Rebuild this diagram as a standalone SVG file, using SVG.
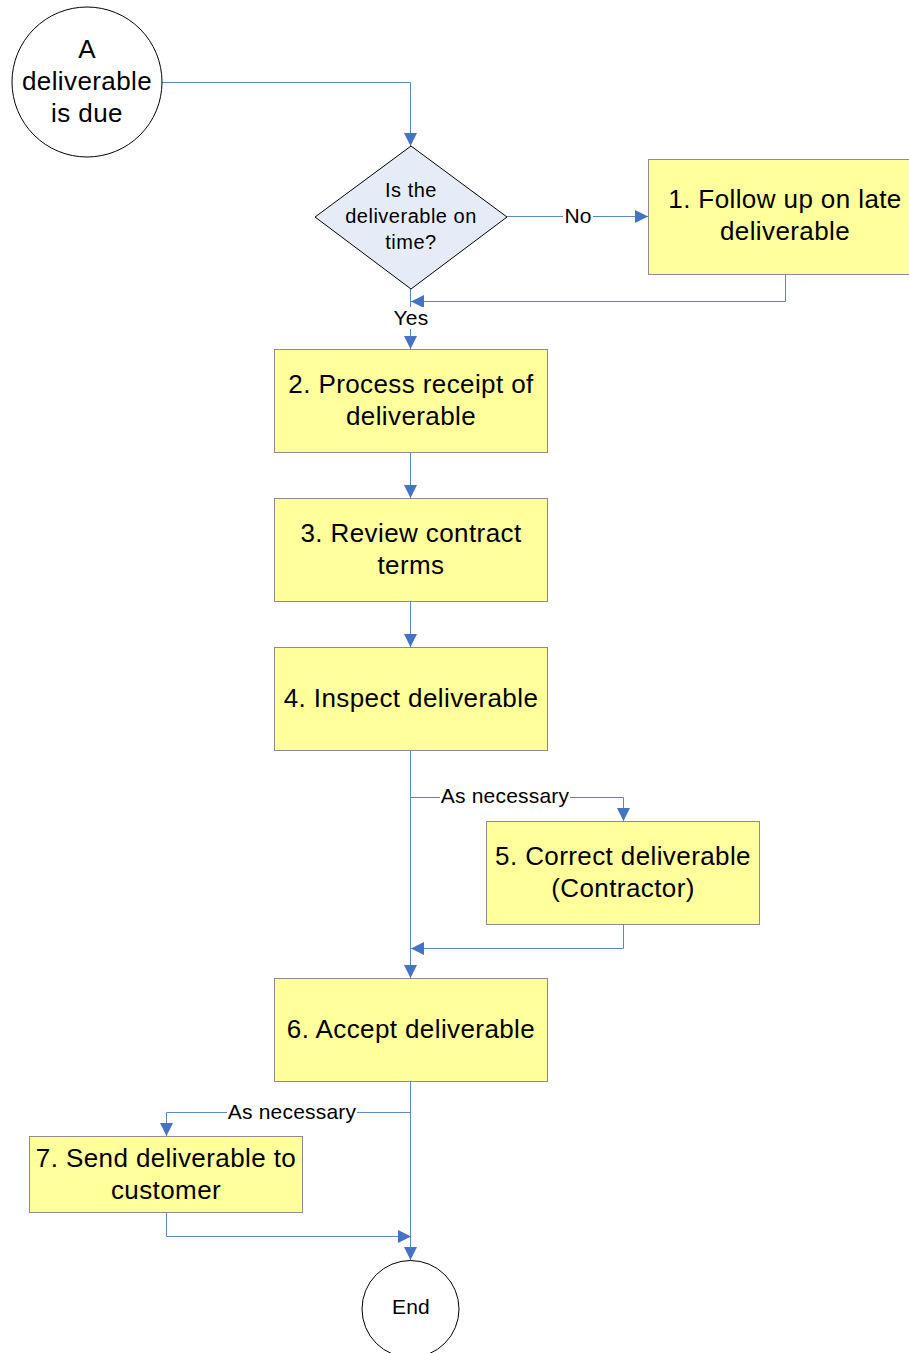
<svg xmlns="http://www.w3.org/2000/svg" width="909" height="1353" viewBox="0 0 909 1353">
  <style>
    .box { fill: #FFFF9C; stroke: #8C8C8C; stroke-width: 1; }
    .term { fill: #FFFFFF; stroke: #000000; stroke-width: 1; }
    .dec { fill: #E6ECF7; stroke: #000000; stroke-width: 1; }
    .big { font-family: "Liberation Sans", Arial, sans-serif; font-size: 26px; letter-spacing: 0.4px; fill: #000; text-anchor: middle; }
    .mid { font-family: "Liberation Sans", Arial, sans-serif; font-size: 20px; letter-spacing: 0.5px; fill: #000; text-anchor: middle; }
    .lbl { font-family: "Liberation Sans", Arial, sans-serif; font-size: 21px; letter-spacing: 0.2px; fill: #000; text-anchor: middle; }
    .wire { fill: none; stroke: #5A86CF; stroke-width: 1; marker-end: url(#arrow); }
    .lblbg { fill: #FFFFFF; }
  </style>
  <defs>
    <marker id="arrow" markerUnits="userSpaceOnUse" markerWidth="14" markerHeight="14" refX="13" refY="6.5" orient="auto">
      <path d="M0,0 L13,6.5 L0,13 Z" fill="#4472C4"/>
    </marker>
  </defs>

  <rect width="909" height="1353" fill="#FFFFFF"/>

  <!-- connectors -->
  <g id="connectors">
    <path class="wire" d="M162,82.5 H410.5 V146"/>
    <path class="wire" d="M507,216.5 H648"/>
    <path class="wire" d="M785.5,275 V301.5 H411"/>
    <path class="wire" d="M410.5,289 V349"/>
    <path class="wire" d="M410.5,452 V498"/>
    <path class="wire" d="M410.5,601 V647"/>
    <path class="wire" d="M410.5,750 V978"/>
    <path class="wire" d="M410.5,797.5 H623.5 V821"/>
    <path class="wire" d="M623.5,924 V948.5 H411"/>
    <path class="wire" d="M410.5,1082 V1260"/>
    <path class="wire" d="M410.5,1112.5 H166.5 V1136"/>
    <path class="wire" d="M166.5,1212 V1236.5 H411"/>

    <rect class="lblbg" x="563" y="205" width="30" height="22"/>
    <text class="lbl" x="578" y="223">No</text>
    <rect class="lblbg" x="390" y="307" width="42" height="22"/>
    <text class="lbl" x="411" y="325">Yes</text>
    <rect class="lblbg" x="440" y="786" width="130" height="22"/>
    <text class="lbl" x="505" y="803">As necessary</text>
    <rect class="lblbg" x="227" y="1102" width="130" height="22"/>
    <text class="lbl" x="292" y="1119">As necessary</text>
  </g>

  <!-- start -->
  <g id="start">
    <circle class="term" cx="87" cy="82" r="75"/>
    <text class="big" x="87" y="58">A</text>
    <text class="big" x="87" y="90">deliverable</text>
    <text class="big" x="87" y="122">is due</text>
  </g>

  <!-- decision -->
  <g id="decision">
    <polygon class="dec" points="411,146 507,217 411,289 315,217"/>
    <text class="mid" x="411" y="197">Is the</text>
    <text class="mid" x="411" y="223">deliverable on</text>
    <text class="mid" x="411" y="249">time?</text>
  </g>

  <g id="step1">
    <rect class="box" x="648.5" y="159.5" width="274" height="115"/>
    <text class="big" x="785" y="208">1. Follow up on late</text>
    <text class="big" x="785" y="240">deliverable</text>
  </g>

  <g id="step2">
    <rect class="box" x="274.5" y="349.5" width="273" height="103"/>
    <text class="big" x="411" y="393">2. Process receipt of</text>
    <text class="big" x="411" y="425">deliverable</text>
  </g>

  <g id="step3">
    <rect class="box" x="274.5" y="498.5" width="273" height="103"/>
    <text class="big" x="411" y="542">3. Review contract</text>
    <text class="big" x="411" y="574">terms</text>
  </g>

  <g id="step4">
    <rect class="box" x="274.5" y="647.5" width="273" height="103"/>
    <text class="big" x="411" y="707">4. Inspect deliverable</text>
  </g>

  <g id="step5">
    <rect class="box" x="486.5" y="821.5" width="273" height="103"/>
    <text class="big" x="623" y="865">5. Correct deliverable</text>
    <text class="big" x="623" y="897">(Contractor)</text>
  </g>

  <g id="step6">
    <rect class="box" x="274.5" y="978.5" width="273" height="103"/>
    <text class="big" x="411" y="1038">6. Accept deliverable</text>
  </g>

  <g id="step7">
    <rect class="box" x="29.5" y="1136.5" width="273" height="76"/>
    <text class="big" x="166" y="1167">7. Send deliverable to</text>
    <text class="big" x="166" y="1199">customer</text>
  </g>

  <g id="end">
    <circle class="term" cx="410.5" cy="1309" r="48.5"/>
    <text class="lbl" x="411" y="1314">End</text>
  </g>
</svg>
